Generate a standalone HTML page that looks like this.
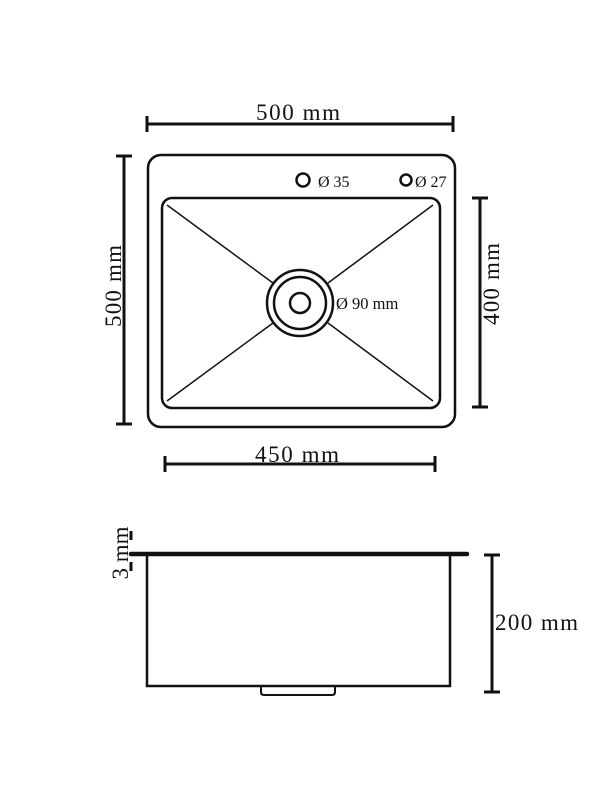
<!DOCTYPE html>
<html><head><style>body{margin:0;background:#fff}svg{display:block}</style></head><body>
<svg width="600" height="800" viewBox="0 0 600 800" xmlns="http://www.w3.org/2000/svg" font-family="Liberation Serif, serif" fill="none" stroke="#111">
<g stroke-width="3">
<line x1="147" y1="124" x2="453" y2="124"/><line x1="147" y1="116" x2="147" y2="132"/><line x1="453" y1="116" x2="453" y2="132"/>
<line x1="124" y1="156" x2="124" y2="424"/><line x1="116" y1="156" x2="132" y2="156"/><line x1="116" y1="424" x2="132" y2="424"/>
<line x1="480" y1="198" x2="480" y2="407"/><line x1="472" y1="198" x2="488" y2="198"/><line x1="472" y1="407" x2="488" y2="407"/>
<line x1="165" y1="464" x2="435" y2="464"/><line x1="165" y1="456" x2="165" y2="472"/><line x1="435" y1="456" x2="435" y2="472"/>
<line x1="492" y1="555" x2="492" y2="692"/><line x1="484" y1="555" x2="500" y2="555"/><line x1="484" y1="692" x2="500" y2="692"/>
<line x1="131" y1="531" x2="131" y2="540"/><line x1="131" y1="562" x2="131" y2="571"/>
</g>
<rect x="148" y="155" width="307" height="272" rx="13" stroke-width="2.5"/>
<rect x="162" y="198" width="278" height="210" rx="10" stroke-width="2.5"/>
<g stroke-width="1.5">
<line x1="167" y1="205" x2="273" y2="283"/><line x1="433" y1="205" x2="328" y2="283"/>
<line x1="167" y1="401" x2="273" y2="323"/><line x1="433" y1="401" x2="328" y2="323"/>
</g>
<circle cx="300" cy="303" r="33" stroke-width="2.5"/>
<circle cx="300" cy="303" r="26" stroke-width="2.5"/>
<circle cx="300" cy="303" r="10" stroke-width="2.5"/>
<circle cx="303" cy="180" r="6.5" stroke-width="2.5"/>
<circle cx="406" cy="180" r="5.5" stroke-width="2.5"/>
<line x1="131" y1="554" x2="467" y2="554" stroke-width="4.5" stroke-linecap="round"/>
<path d="M147 556 V686 H450 V556" stroke-width="2.5"/>
<path d="M261 686 V692 Q261 695 264 695 H332 Q335 695 335 692 V686" stroke-width="2"/>
<g fill="#111" stroke="none" font-size="23">
<text x="298" y="120" text-anchor="middle" textLength="84">500 mm</text>
<text x="297" y="462" text-anchor="middle" textLength="84">450 mm</text>
<text x="495" y="630" textLength="83">200 mm</text>
<text transform="translate(121 286) rotate(-90)" text-anchor="middle" textLength="82">500 mm</text>
<text transform="translate(499 284) rotate(-90)" text-anchor="middle" textLength="82">400 mm</text>
<text transform="translate(128 553) rotate(-90)" text-anchor="middle">3 mm</text>
<text x="336" y="309" font-size="16.5">Ø 90 mm</text>
<text x="318" y="187" font-size="16">Ø 35</text>
<text x="415" y="187" font-size="16">Ø 27</text>
</g>
</svg>
</body></html>
